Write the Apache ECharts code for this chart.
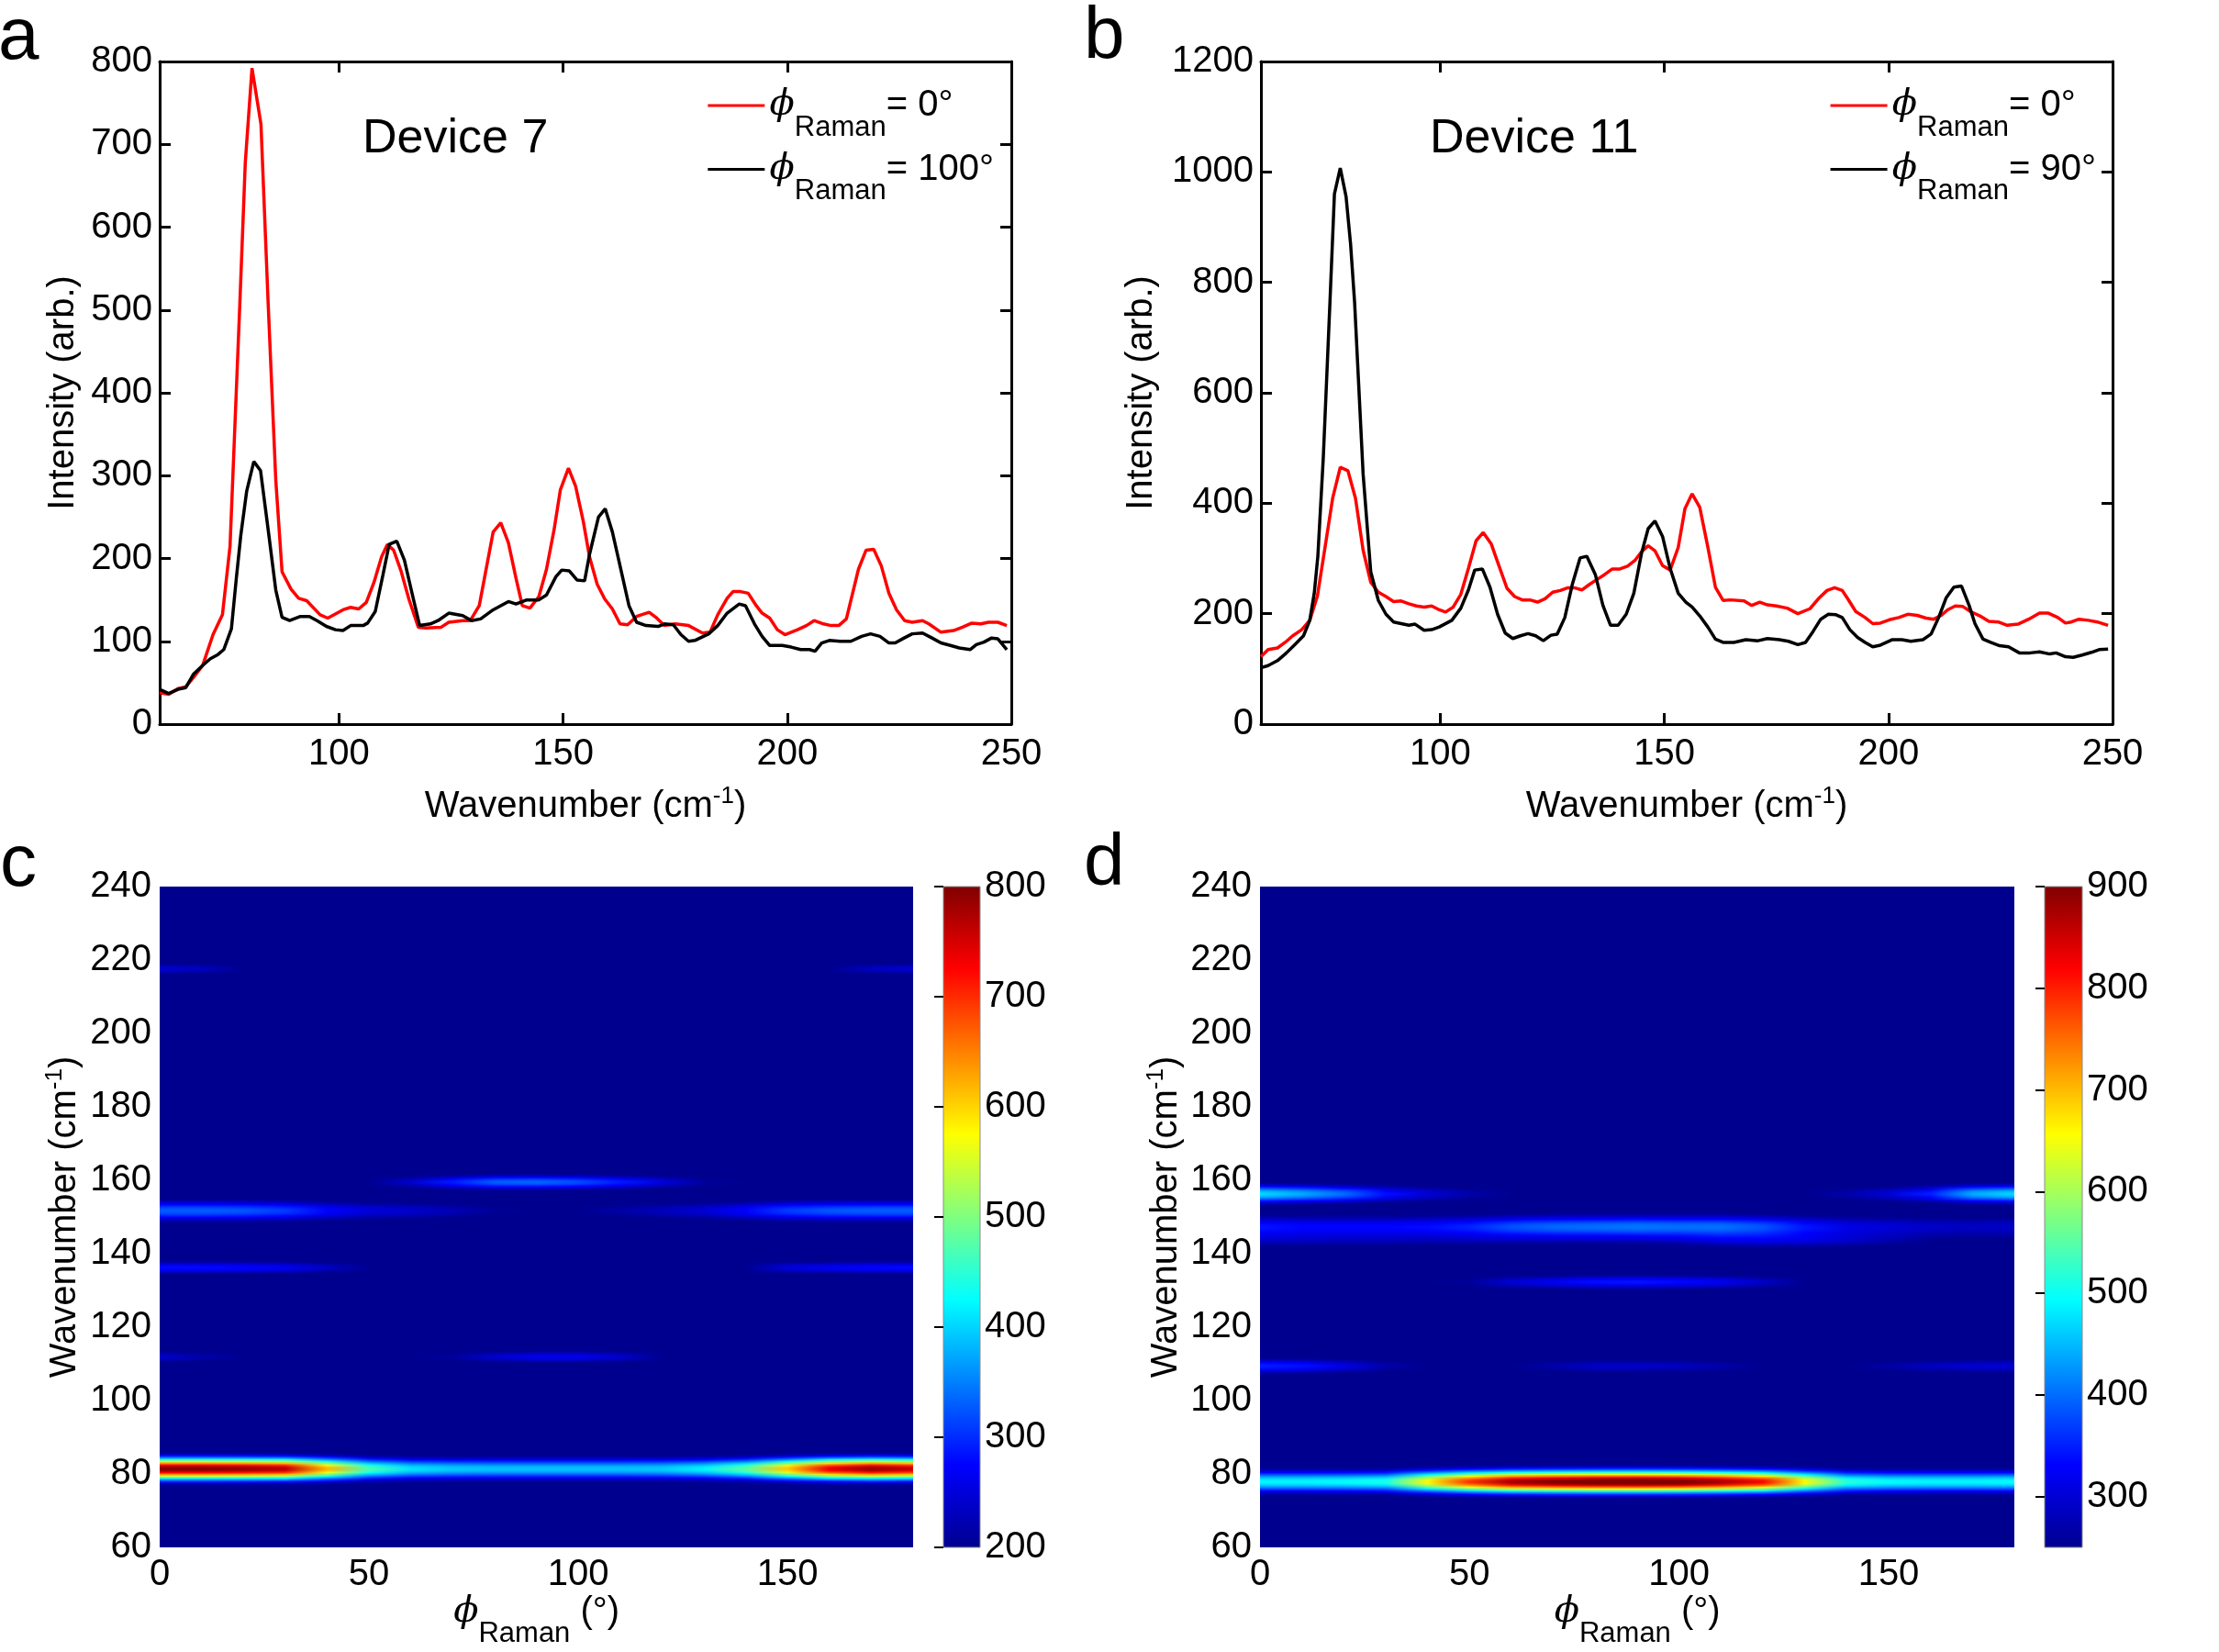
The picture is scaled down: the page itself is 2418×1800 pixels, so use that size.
<!DOCTYPE html>
<html>
<head>
<meta charset="utf-8">
<script src="https://cdn.jsdelivr.net/npm/echarts@6/dist/echarts.min.js"></script>
<style>
  html, body { margin: 0; padding: 0; background: #fff; }
  #charts { width: 2418px; height: 1800px; }
</style>
</head>
<body>
<div id="charts"></div>
<script>
// ---------- panel a : Device 7 spectra ----------
var aRedX = [60,62,64.1,65.8,67.5,69.6,71.9,74,75.7,77.9,79.1,80.6,82.6,84.2,85.9,87.3,89.3,91,92.8,95.8,97.5,100.9,102.6,104.4,106.1,107.8,109.5,110.8,112.2,113.9,115.6,117.7,119.4,122.8,124.5,127.6,129.3,131.3,134.4,136.1,137.8,139.5,140.9,142.6,144.6,146.3,148,149.4,151.2,152.8,154.5,155.9,157.6,159.3,161,162.7,164.4,166.4,169.2,170.9,172.6,175,178,181.1,182.8,184.5,186.6,187.9,189.6,191.3,193.1,194.4,196.1,197.8,199.5,202.3,204.3,206,208.1,209.8,211.5,213.2,215.9,217.6,219.3,221,222.7,224.4,226.2,227.9,230.2,231.6,234.3,237.1,239.1,241.2,243.2,244.9,247,249];
var aRedY = [38,36,43,45,56,71,108,132,215,510,678,792,724,508,295,184,163,152,149,132,128,138,141,139,147,171,202,217,210,184,151,117,116,117,123,125,125,143,232,243,219,176,143,140,154,187,235,283,309,287,245,202,169,151,139,121,120,130,135,128,119,121,119,110,111,132,152,160,160,158,143,134,128,114,108,114,119,125,121,119,119,127,187,210,211,191,158,138,125,123,125,121,111,113,117,122,121,123,123,119];
var aBlackX = [60,62,64.1,65.8,67.5,69.6,71.3,73,74.3,76,77.1,78.1,79.4,81,82.5,84.2,85.9,87.3,89,91.4,93.4,95.1,97.2,99.2,100.9,102.6,105.4,106.4,108.1,109.8,111.2,112.9,114.6,116.3,118,120.4,122.1,124.5,127.6,129.6,131.6,134.4,137.8,139.5,141.9,144.6,146.3,148.4,149.7,151.4,153.1,154.8,155.9,157.9,159.4,161,163,164.7,166.4,168.5,171.2,172.6,174.6,176.3,178,179.4,182.5,184.5,186.6,189.3,190.7,192.7,194.4,196.1,198.9,200.9,203,205,206.2,207.7,209.4,211.8,214.2,216.6,218.6,220.7,222.7,224.1,226.1,227.9,230.2,232.3,234.3,236.4,238.4,240.8,242.2,243.9,245.6,247,249];
var aBlackY = [42,37,42,44,60,71,79,84,90,115,176,228,281,317,306,235,162,129,125,130,130,125,118,114,113,119,119,122,136,180,217,221,198,158,119,121,125,134,131,125,127,138,148,145,150,150,156,178,186,185,174,173,205,250,260,232,184,143,123,119,118,121,120,108,100,101,109,119,134,145,143,121,106,95,95,93,90,90,88,98,101,100,100,106,109,106,98,98,104,109,110,104,98,95,92,90,96,99,104,103,90];

// ---------- panel b : Device 11 spectra ----------
var bRedX = [60,61.6,63.7,65.4,67.1,69.1,70.9,72.6,74.3,76,77.7,79.4,81.1,82.8,84.5,86.2,87.9,89.6,91.3,93,94.7,96.4,98.1,99.8,101.2,102.9,104.6,106.3,108,109.6,111.4,113.1,114.9,116.6,118.3,120,121.7,123.4,125.1,126.8,128.5,129.9,131.6,133.3,135,136.7,138.4,140.1,141.8,143.5,144.9,146.4,147.9,149.6,151.3,153.1,154.6,156.2,157.9,159.7,161.4,163.1,164.8,167.8,169.5,171.3,173,175,177.4,179.8,182.5,184.6,186.3,188,189.7,191,192.7,194.8,196.5,198.2,200.2,202.3,204.3,206.4,208.4,210.1,211.8,213.2,214.9,216.6,218.3,220.4,222.4,224.5,226.5,228.9,231.3,233.7,235.7,237.8,239.5,240.8,242.5,244.6,246.6,249];
var bRedY = [122,135,138,148,160,171,188,232,320,409,465,459,409,315,257,239,231,222,223,218,214,212,214,207,203,212,235,282,332,347,326,287,246,231,225,225,221,227,239,242,247,247,243,253,262,271,281,281,286,297,312,323,314,287,279,320,390,417,393,321,248,224,225,223,215,221,216,214,210,200,209,229,242,247,242,226,204,193,182,183,189,193,199,197,192,190,197,207,214,213,204,196,186,185,179,181,190,201,201,193,183,185,190,188,185,179];
var bBlackX = [60,61.6,63.7,65.7,67.8,69.5,70.9,71.9,72.7,73.9,75.4,76.4,77.7,79,80,80.9,82.8,84.5,86.2,87.9,89.6,91.3,93,94.4,96.4,98.1,99.8,102.6,104.6,106.3,107.7,109.4,111.1,112.8,114.5,116.2,117.9,119.6,121.3,123,124.7,126.1,127.8,129.5,131.2,132.7,134.6,136.3,138,139.7,141.5,143.2,144.9,146.4,147.9,149.6,151.3,153.1,154.8,156.2,157.9,159.7,161.4,163.1,165.5,168.2,170.9,173,175.7,177.7,179.8,181.5,183.2,184.9,186.6,188.3,189.7,191.4,193.1,194.8,196.5,198.2,200.9,203,205,207.7,209.5,211.2,212.9,214.6,216.3,218,219.3,221.1,222.8,224.8,226.8,229.2,231.6,233.7,236,237.4,239.5,241.2,243.2,245.3,247,249];
var bBlackY = [102,106,115,129,146,160,188,237,304,480,764,960,1007,955,870,764,453,276,224,199,185,182,179,181,170,171,176,188,210,243,279,281,248,199,165,155,160,164,160,151,161,163,193,254,301,304,271,215,179,179,199,237,309,354,368,340,282,237,221,212,196,176,154,148,148,153,151,155,153,150,144,148,168,190,199,198,193,171,157,148,140,143,153,153,150,153,163,193,229,248,250,215,182,154,148,142,140,129,129,131,127,129,122,121,125,130,135,136];

var xTickValues = [100, 150, 200, 250];

// ---------- panels c, d : angle maps ----------
var phiAngles = [0,10,20,30,40,50,60,70,80,90,100,110,120,130,140,150,160,170,180];
var phiTicks = [0, 50, 100, 150];

// Device 7 bands (peak value at each angle)
var cCenters = [81.5, 112, 136.3, 151.8, 159.6, 217.7];
var cWidths = [2.0, 1.3, 1.3, 2.0, 1.4, 1.2];
var cAmps = [
  [800,800,790,770,620,470,410,395,390,390,390,390,395,420,480,610,740,790,760],
  [240,220,170,150,150,150,170,210,240,260,260,240,200,160,150,150,150,150,150],
  [280,280,275,265,235,190,150,150,150,150,150,150,150,150,200,250,265,275,280],
  [330,330,325,310,275,250,240,225,205,195,200,215,230,245,275,310,325,330,330],
  [150,150,150,150,160,200,240,290,330,335,320,290,250,210,160,150,150,150,150],
  [245,235,195,150,150,150,150,150,150,150,150,150,150,150,150,150,190,235,245]
];
var cBase = 150, cMin = 200, cMax = 800;

// Device 11 bands
var dCenters = [78, 109.5, 132.4, 143.5, 147.5, 156.4];
var dWidths = [2.0, 1.5, 1.4, 1.6, 2.2, 1.7];
var dAmps = [
  [490,490,495,510,660,790,880,910,930,935,920,880,820,660,520,495,490,490,495],
  [350,340,310,270,230,220,240,270,290,290,285,270,240,230,240,265,285,295,300],
  [200,200,200,200,210,260,300,320,340,345,335,320,290,230,200,200,200,200,200],
  [260,260,255,255,250,250,245,240,240,240,250,270,280,280,270,250,230,225,225],
  [340,330,330,330,335,350,380,395,400,405,400,400,380,340,310,300,290,285,290],
  [470,440,400,340,300,270,230,200,200,200,200,200,200,240,270,300,350,440,470]
];
var dBase = 200, dMin = 250, dMax = 900;
var dBarTicks = [300, 400, 500, 600, 700, 800, 900];

var FONT = '"Liberation Sans", Arial, sans-serif';

// jet colour map
var jetStops = [[0,[0,0,143]],[0.125,[0,0,255]],[0.375,[0,255,255]],[0.625,[255,255,0]],[0.875,[255,0,0]],[1,[128,0,0]]];
function jet(t) {
  t = Math.max(0, Math.min(1, t));
  for (var i = 0; i < jetStops.length - 1; i++) {
    var s0 = jetStops[i], s1 = jetStops[i + 1];
    if (t <= s1[0]) {
      var f = (t - s0[0]) / (s1[0] - s0[0]);
      var c = s0[1].map(function (v, j) { return Math.round(v + (s1[1][j] - v) * f); });
      return 'rgb(' + c.join(',') + ')';
    }
  }
  return 'rgb(128,0,0)';
}

function zip(xs, ys) { return xs.map(function (x, i) { return [x, ys[i]]; }); }

// one row per 0.5 cm-1, value at each angle
function buildRows(centers, widths, amps, base) {
  var rows = [];
  for (var i = 0; i <= 360; i++) {
    var wn = 60 + i * 0.5;
    var row = [wn];
    for (var k = 0; k < phiAngles.length; k++) {
      var v = base;
      for (var b = 0; b < centers.length; b++) {
        var d = (wn - centers[b]) / widths[b];
        v += (amps[b][k] - base) * Math.exp(-0.5 * d * d);
      }
      row.push(v);
    }
    rows.push(row);
  }
  return rows;
}

function heatRow(vmin, vmax) {
  return function (params, api) {
    var wn = api.value(0);
    var p0 = api.coord([0, wn + 0.25]);
    var p1 = api.coord([180, wn - 0.25]);
    var stops = [];
    for (var k = 0; k < phiAngles.length; k++) {
      stops.push({ offset: phiAngles[k] / 180, color: jet((api.value(k + 1) - vmin) / (vmax - vmin)) });
    }
    return {
      type: 'rect',
      shape: { x: p0[0], y: p0[1] - 0.5, width: p1[0] - p0[0], height: p1[1] - p0[1] + 1 },
      style: { fill: new echarts.graphic.LinearGradient(0, 0, 1, 0, stops) }
    };
  };
}

function colorBar(params, api) {
  var top = api.coord([0, api.value(1)]);
  var bot = api.coord([1, api.value(0)]);
  var stops = jetStops.map(function (s) { return { offset: s[0], color: 'rgb(' + s[1].join(',') + ')' }; });
  return {
    type: 'rect',
    shape: { x: top[0], y: top[1], width: bot[0] - top[0], height: bot[1] - top[1] },
    style: { fill: new echarts.graphic.LinearGradient(0, 1, 0, 0, stops), stroke: '#8c8c8c', lineWidth: 1 }
  };
}

var supRich = {
  t: { fontSize: 40, fontFamily: FONT, color: '#000', lineHeight: 44, verticalAlign: 'bottom' },
  s: { fontSize: 26, fontFamily: FONT, color: '#000', lineHeight: 26, verticalAlign: 'top' }
};
var phiRich = {
  sp: { fontSize: 1, lineHeight: 79 },
  phi: { fontSize: 40, fontFamily: 'DejaVu Serif', fontStyle: 'italic', color: '#000', lineHeight: 40, verticalAlign: 'middle' },
  sub: { fontSize: 31, fontFamily: FONT, color: '#000', lineHeight: 31, verticalAlign: 'bottom' },
  eq: { fontSize: 40, fontFamily: FONT, color: '#000', lineHeight: 40, verticalAlign: 'middle' }
};
var waveName = '{t|Wavenumber (cm}{s|-1}{t|)}';

var blackLine = { color: '#000', width: 3 };
var tickStyle = { color: '#000', width: 3 };
var labelStyle = { color: '#000', fontSize: 40, fontFamily: FONT, formatter: function (v) { return String(v); } };

function specX(grid) {
  return [
    { type: 'value', gridIndex: grid, min: 60, max: 250, position: 'bottom',
      axisLine: { onZero: false, lineStyle: blackLine },
      axisTick: { inside: true, length: 12, customValues: xTickValues, lineStyle: tickStyle },
      axisLabel: Object.assign({ customValues: xTickValues, margin: 13 }, labelStyle),
      splitLine: { show: false },
      name: waveName, nameLocation: 'middle', nameGap: 66, nameTextStyle: { rich: supRich } },
    { type: 'value', gridIndex: grid, min: 60, max: 250, position: 'top',
      axisLine: { onZero: false, lineStyle: blackLine },
      axisTick: { inside: true, length: 12, customValues: xTickValues, lineStyle: tickStyle },
      axisLabel: { show: false }, splitLine: { show: false } }
  ];
}
function specY(grid, max, step, gap) {
  return [
    { type: 'value', gridIndex: grid, min: 0, max: max, interval: step, position: 'left',
      axisLine: { onZero: false, lineStyle: blackLine },
      axisTick: { inside: true, length: 12, lineStyle: tickStyle },
      axisLabel: Object.assign({ margin: 8 }, labelStyle),
      splitLine: { show: false },
      name: 'Intensity (arb.)', nameLocation: 'middle', nameRotate: 90, nameGap: gap,
      nameTextStyle: { color: '#000', fontSize: 40, fontFamily: FONT } },
    { type: 'value', gridIndex: grid, min: 0, max: max, interval: step, position: 'right',
      axisLine: { onZero: false, lineStyle: blackLine },
      axisTick: { inside: true, length: 12, lineStyle: tickStyle },
      axisLabel: { show: false }, splitLine: { show: false } }
  ];
}
function mapX(grid) {
  return { type: 'value', gridIndex: grid, min: 0, max: 180,
    axisLine: { show: false }, axisTick: { show: false }, splitLine: { show: false },
    axisLabel: Object.assign({ customValues: phiTicks, margin: 10 }, labelStyle),
    name: '{sp| }{phi|ϕ}{sub|Raman}{eq| (°)}', nameLocation: 'middle', nameGap: 28,
    nameTextStyle: { rich: phiRich } };
}
function mapY(grid, gap) {
  return { type: 'value', gridIndex: grid, min: 60, max: 240, interval: 20,
    axisLine: { show: false }, axisTick: { show: false }, splitLine: { show: false },
    axisLabel: Object.assign({ margin: 9 }, labelStyle),
    name: waveName, nameLocation: 'middle', nameRotate: 90, nameGap: gap,
    nameTextStyle: { rich: supRich } };
}
function barY(grid, min, max, ticks) {
  return { type: 'value', gridIndex: grid, min: min, max: max, position: 'right', z: 10,
    axisLine: { show: false }, splitLine: { show: false },
    axisTick: { inside: true, length: 10, customValues: ticks, lineStyle: { color: '#000', width: 2 } },
    axisLabel: Object.assign({ customValues: ticks, margin: 5 }, labelStyle) };
}

var legendLabels = { a0: '0°', a100: '100°', b0: '0°', b90: '90°' };
function legendOpt(names, right) {
  return { data: names, orient: 'vertical', right: right, top: 95, padding: 0,
    icon: 'rect', itemWidth: 62, itemHeight: 3, itemGap: 10, selectedMode: false,
    formatter: function (n) { return '{sp| }{phi|ϕ}{sub|Raman}{eq|= ' + legendLabels[n] + '}'; },
    textStyle: { rich: phiRich } };
}

function txt(s, x, y, size, color, bold) {
  return { type: 'text', x: x, y: y, silent: true,
    style: { text: s, fontSize: size, fontFamily: FONT, fontWeight: bold ? 'bold' : 'normal',
      fill: color, align: 'left', verticalAlign: 'middle' } };
}

var myChart = echarts.init(document.getElementById('charts'), null, { renderer: 'canvas' });

var option = {
  animation: false,
  backgroundColor: '#fff',
  grid: [
    { left: 174, top: 67, width: 928, height: 722, outerBoundsMode: 'none' },
    { left: 1374, top: 67, width: 928, height: 722, outerBoundsMode: 'none' },
    { left: 174, top: 966, width: 821, height: 720, outerBoundsMode: 'none', show: true, backgroundColor: '#00008F', borderWidth: 0 },
    { left: 1028, top: 966, width: 40, height: 720, outerBoundsMode: 'none' },
    { left: 1373, top: 966, width: 822, height: 720, outerBoundsMode: 'none', show: true, backgroundColor: '#00008F', borderWidth: 0 },
    { left: 2228, top: 966, width: 41, height: 720, outerBoundsMode: 'none' }
  ],
  xAxis: specX(0).concat(specX(1)).concat([
    mapX(2),
    { type: 'value', gridIndex: 3, min: 0, max: 1, show: false },
    mapX(4),
    { type: 'value', gridIndex: 5, min: 0, max: 1, show: false }
  ]),
  yAxis: specY(0, 800, 100, 85).concat(specY(1, 1200, 200, 110)).concat([
    mapY(2, 83),
    barY(3, cMin, cMax, null),
    mapY(4, 82),
    barY(5, dMin, dMax, dBarTicks)
  ]),
  legend: [legendOpt(['a0', 'a100'], 1335), legendOpt(['b0', 'b90'], 134)],
  graphic: [
    txt('a', -2, 42, 80, '#000'),
    txt('b', 1181, 41, 80, '#000'),
    txt('c', 0, 943, 80, '#000'),
    txt('d', 1181, 942, 80, '#000'),
    txt('Device 7', 395, 152, 52, '#000'),
    txt('Device 11', 1558, 152, 52, '#000'),
    txt('Device 7', 394, 1047, 54, '#fff', true),
    txt('Device 11', 1559, 1037, 52, '#fff', true)
  ],
  series: [
    { name: 'a0', type: 'line', xAxisIndex: 0, yAxisIndex: 0, data: zip(aRedX, aRedY), symbol: 'none', silent: true,
      color: '#ff0000', lineStyle: { color: '#ff0000', width: 3.5 }, z: 3 },
    { name: 'a100', type: 'line', xAxisIndex: 0, yAxisIndex: 0, data: zip(aBlackX, aBlackY), symbol: 'none', silent: true,
      color: '#000', lineStyle: { color: '#000', width: 3.5 }, z: 4 },
    { name: 'b0', type: 'line', xAxisIndex: 2, yAxisIndex: 2, data: zip(bRedX, bRedY), symbol: 'none', silent: true,
      color: '#ff0000', lineStyle: { color: '#ff0000', width: 3.5 }, z: 3 },
    { name: 'b90', type: 'line', xAxisIndex: 2, yAxisIndex: 2, data: zip(bBlackX, bBlackY), symbol: 'none', silent: true,
      color: '#000', lineStyle: { color: '#000', width: 3.5 }, z: 4 },
    { type: 'custom', xAxisIndex: 4, yAxisIndex: 4, clip: true, silent: true, progressive: 0,
      renderItem: heatRow(cMin, cMax), data: buildRows(cCenters, cWidths, cAmps, cBase) },
    { type: 'custom', xAxisIndex: 5, yAxisIndex: 5, silent: true,
      renderItem: colorBar, data: [[cMin, cMax]] },
    { type: 'custom', xAxisIndex: 6, yAxisIndex: 6, clip: true, silent: true, progressive: 0,
      renderItem: heatRow(dMin, dMax), data: buildRows(dCenters, dWidths, dAmps, dBase) },
    { type: 'custom', xAxisIndex: 7, yAxisIndex: 7, silent: true,
      renderItem: colorBar, data: [[dMin, dMax]] }
  ]
};

myChart.setOption(option);
</script>
</body>
</html>
